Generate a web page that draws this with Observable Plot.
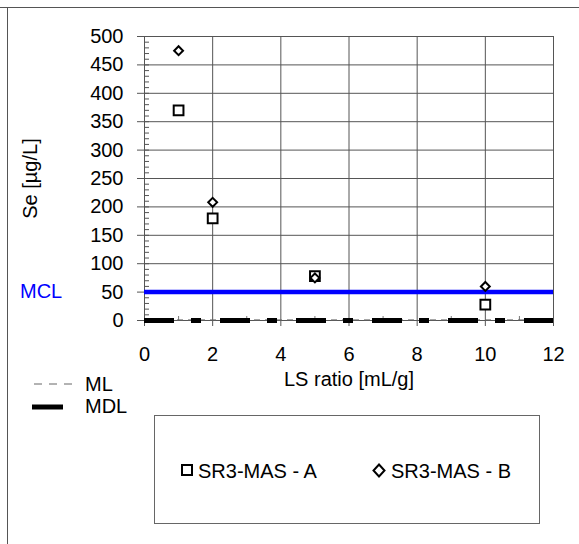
<!DOCTYPE html>
<html>
<head>
<meta charset="utf-8">
<script src="https://cdn.jsdelivr.net/npm/d3@7"></script>
<script src="https://cdn.jsdelivr.net/npm/@observablehq/plot@0.6"></script>
<style>
  html, body { margin: 0; padding: 0; background: #fff; }
  #wrap { position: relative; width: 579px; height: 544px; overflow: hidden; font-family: "Liberation Sans", Arial, sans-serif; }
  #wrap svg.plot { position: absolute; left: 0; top: 0; }
  .abs { position: absolute; white-space: nowrap; font-size: 20px; line-height: 20px; }
</style>
</head>
<body>
<div id="wrap"></div>
<script>
// ---- data ----
const lsRatio = [1, 2, 5, 10];
const seA = [370, 180, 78, 28];      // SR3-MAS - A (squares)
const seB = [475, 208, 75, 60];      // SR3-MAS - B (diamonds)
const mclValue = [50];               // MCL
const mlValue = [1];                 // ML
const mdlValue = [0];                // MDL
const xTicks = [0, 2, 4, 6, 8, 10, 12];
const yTicks = [0, 50, 100, 150, 200, 250, 300, 350, 400, 450, 500];
const yMinor = d3.range(0, 501, 10);
const xMinor = [1, 3, 5, 7, 9, 11];
const seriesNames = ["SR3-MAS - A", "SR3-MAS - B"];

const dataA = lsRatio.map((x, i) => ({x, y: seA[i]}));
const dataB = lsRatio.map((x, i) => ({x, y: seB[i]}));

const chart = Plot.plot({
  width: 579,
  height: 544,
  marginLeft: 144,
  marginRight: 26,
  marginTop: 36,
  marginBottom: 224,
  style: {fontFamily: "'Liberation Sans', Arial, sans-serif", fontSize: "20px", color: "#000", background: "transparent"},
  x: {domain: [0, 12]},
  y: {domain: [0, 500]},
  marks: [
    Plot.gridX(xTicks, {stroke: "#555", strokeOpacity: 1}),
    Plot.gridY(yTicks, {stroke: "#555", strokeOpacity: 1}),
    Plot.axisY(yMinor, {anchor: "left", tickSize: -5, stroke: "#555", tickFormat: () => "", label: null}),
    Plot.axisX(xMinor, {anchor: "bottom", tickSize: -4, stroke: "#777", tickFormat: () => "", label: null}),
    Plot.axisY(yTicks, {anchor: "left", tickSize: 7, tickPadding: 14, fontSize: 20, stroke: "#555",
      label: "Se [µg/L]", labelAnchor: "center", labelOffset: 122, labelArrow: "none"}),
    Plot.axisX(xTicks, {anchor: "bottom", tickSize: 6, tickPadding: 20, fontSize: 20, stroke: "#555",
      label: "LS ratio [mL/g]", labelAnchor: "center", labelOffset: 65, labelArrow: "none"}),
    Plot.ruleY(mlValue, {stroke: "#666", strokeWidth: 1, strokeDasharray: "6,5"}),
    Plot.ruleY(mdlValue, {stroke: "#000", strokeWidth: 5, strokeDasharray: "30,17,10,19"}),
    Plot.ruleY(mclValue, {stroke: "#0000ff", strokeWidth: 4.5}),
    Plot.dot(dataA, {x: "x", y: "y", symbol: "square", r: 5.5, stroke: "#000", strokeWidth: 2, fill: "#fff"}),
    Plot.dot(dataB, {x: "x", y: "y", symbol: "diamond2", r: 4, stroke: "#000", strokeWidth: 2, fill: "#fff"})
  ]
});

const wrap = document.getElementById("wrap");
wrap.appendChild(chart);

// outer frame (top and left borders), side labels and legends
wrap.insertAdjacentHTML("beforeend", `
  <div style="position:absolute;left:0;top:7px;width:579px;height:0;border-top:1.5px solid #555"></div>
  <div style="position:absolute;left:7px;top:7px;width:0;height:540px;border-left:1.5px solid #555"></div>
  <div class="abs" style="left:20px;top:281px;color:#0000ff">MCL</div>
  <svg style="position:absolute;left:30px;top:378px" width="50" height="40">
    <line x1="4" x2="44" y1="6" y2="6" stroke="#666" stroke-width="1" stroke-dasharray="8,7"/>
    <line x1="2" x2="33" y1="29" y2="29" stroke="#000" stroke-width="5"/>
  </svg>
  <div class="abs" style="left:85px;top:374px">ML</div>
  <div class="abs" style="left:85px;top:396px">MDL</div>
  <div style="position:absolute;left:154px;top:415px;width:384px;height:107px;border:1px solid #666;background:#fff"></div>
  <svg style="position:absolute;left:178px;top:460px" width="20" height="22">
    <rect x="4" y="5" width="10" height="10" fill="#fff" stroke="#000" stroke-width="2"/>
  </svg>
  <div class="abs" style="left:198px;top:461px">${seriesNames[0]}</div>
  <svg style="position:absolute;left:370px;top:460px" width="20" height="22">
    <path d="M9,4.5 L14.5,10.5 L9,16.5 L3.5,10.5 Z" fill="#fff" stroke="#000" stroke-width="2"/>
  </svg>
  <div class="abs" style="left:391px;top:461px">${seriesNames[1]}</div>
`);
</script>
</body>
</html>
